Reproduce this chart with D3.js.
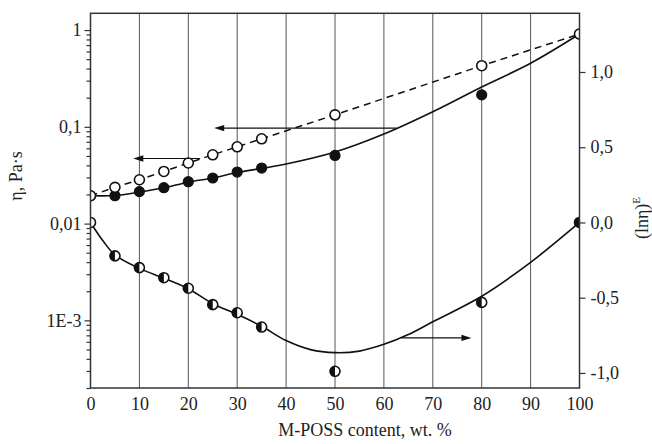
<!DOCTYPE html>
<html>
<head>
<meta charset="utf-8">
<script src="https://cdn.jsdelivr.net/npm/d3@7"></script>
<style>
  html, body { margin: 0; padding: 0; background: #fff; }
  svg text { font-family: "Liberation Serif", "Times New Roman", Times, "DejaVu Serif", serif; fill: #222; }
</style>
</head>
<body>
<svg id="chart" width="652" height="444"></svg>
<script>

/* ── data ── */
const contentX   = [0, 5, 10, 15, 20, 25, 30, 35, 50, 80, 100];
const etaFilled  = [0.0194, 0.0194, 0.0214, 0.0235, 0.0271, 0.0296, 0.0341, 0.0375, 0.0506, 0.214, 0.91];
const etaOpen    = [0.0194, 0.0237, 0.0284, 0.0346, 0.0423, 0.0514, 0.0622, 0.0752, 0.133, 0.428, 0.91];
const excessLn   = [0.0, -0.222, -0.30, -0.367, -0.437, -0.546, -0.60, -0.695, -0.989, -0.531, 0.0];

/* fitted curves (drawn lines) */
const etaFitX    = [0, 5, 10, 15, 20, 25, 30, 35, 40, 50, 60, 70, 80, 90, 100];
const etaFit     = [0.0194, 0.0195, 0.0212, 0.0235, 0.0268, 0.0296, 0.0337, 0.0372, 0.0412, 0.0548, 0.0841, 0.143, 0.258, 0.454, 0.91];
const excessFitX = [0, 2.5, 5, 10, 15, 20, 25, 30, 35, 40, 45, 50, 55, 60, 65, 70, 80, 90, 100];
const excessFit  = [0, -0.12, -0.215, -0.305, -0.37, -0.44, -0.54, -0.61, -0.69, -0.785, -0.845, -0.865, -0.855, -0.81, -0.745, -0.66, -0.49, -0.265, 0];

/* axis ticks */
const xTicks      = [0, 10, 20, 30, 40, 50, 60, 70, 80, 90, 100];
const leftTicks   = [0.001, 0.01, 0.1, 1];
const leftLabels  = ['1E-3', '0,01', '0,1', '1'];
const rightTicks  = [-1, -0.5, 0, 0.5, 1];
const rightLabels = ['-1,0', '-0,5', '0,0', '0,5', '1,0'];

/* arrows: axis, y value, from x, to x (head at "to") */
const arrows = [
  { axis: 'left',  y: 0.097,  from: 62.6, to: 25.3 },
  { axis: 'left',  y: 0.0471, from: 22.4, to: 8.75 },
  { axis: 'right', y: -0.767, from: 63.6, to: 77.9 }
];

/* ── layout ── */
const svg = d3.select('#chart');
const pLeft = 90.5, pRight = 579.5, pTop = 13.3, pBottom = 388;
const serif = '"Liberation Serif", "Times New Roman", Times, "DejaVu Serif", serif';

const x  = d3.scaleLinear().domain([0, 100]).range([pLeft, pRight]);
const yL = d3.scaleLog().domain([2.0e-4, 1.49]).range([pBottom, pTop]);
const yR = d3.scaleLinear().domain([-1.1, 1.39]).range([pBottom, pTop]);

const ink = '#111';

svg.append('defs').append('clipPath').attr('id', 'plot-clip')
  .append('rect')
  .attr('x', pLeft).attr('y', pTop)
  .attr('width', pRight - pLeft).attr('height', pBottom - pTop);

/* ── vertical grid lines ── */
svg.append('g')
  .selectAll('line')
  .data(xTicks.filter(d => d > 0 && d < 100))
  .join('line')
  .attr('x1', d => x(d)).attr('x2', d => x(d))
  .attr('y1', pTop).attr('y2', pBottom)
  .attr('stroke', '#555').attr('stroke-width', 1);

const plot = svg.append('g').attr('clip-path', 'url(#plot-clip)');

/* ── curves ── */
const lineL = d3.line().x(d => x(d[0])).y(d => yL(d[1])).curve(d3.curveCatmullRom);
const lineR = d3.line().x(d => x(d[0])).y(d => yR(d[1])).curve(d3.curveCatmullRom);

plot.append('path')
  .datum(etaFitX.map((v, i) => [v, etaFit[i]]))
  .attr('d', lineL)
  .attr('fill', 'none').attr('stroke', ink).attr('stroke-width', 1.6);

plot.append('path')
  .datum(contentX.map((v, i) => [v, etaOpen[i]]))
  .attr('d', d3.line().x(d => x(d[0])).y(d => yL(d[1])))
  .attr('fill', 'none').attr('stroke', ink).attr('stroke-width', 1.5)
  .attr('stroke-dasharray', '7,5');

plot.append('path')
  .datum(excessFitX.map((v, i) => [v, excessFit[i]]))
  .attr('d', lineR)
  .attr('fill', 'none').attr('stroke', ink).attr('stroke-width', 1.6);

/* ── markers ── */
const r = 5;

plot.append('g').selectAll('circle')
  .data(contentX.map((v, i) => [v, etaFilled[i]]))
  .join('circle')
  .attr('cx', d => x(d[0])).attr('cy', d => yL(d[1])).attr('r', r)
  .attr('fill', ink).attr('stroke', ink).attr('stroke-width', 1.2);

plot.append('g').selectAll('circle')
  .data(contentX.map((v, i) => [v, etaOpen[i]]))
  .join('circle')
  .attr('cx', d => x(d[0])).attr('cy', d => yL(d[1])).attr('r', r)
  .attr('fill', '#fff').attr('stroke', ink).attr('stroke-width', 1.6);

/* half-filled: white disc + left half black */
const half = plot.append('g').selectAll('g')
  .data(contentX.map((v, i) => [v, excessLn[i]]))
  .join('g')
  .attr('transform', d => `translate(${x(d[0])},${yR(d[1])})`);

half.append('circle').attr('r', r).attr('fill', '#fff');
half.append('path')
  .attr('d', `M0,${-r} A${r},${r} 0 0 0 0,${r} Z`)
  .attr('fill', ink);
half.append('circle').attr('r', r)
  .attr('fill', 'none').attr('stroke', ink).attr('stroke-width', 1.6);

/* ── arrows ── */
arrows.forEach(a => {
  const yy = a.axis === 'left' ? yL(a.y) : yR(a.y);
  const x1 = x(a.from), x2 = x(a.to);
  const dir = Math.sign(x2 - x1);
  svg.append('line')
    .attr('x1', x1).attr('x2', x2 - dir * 6)
    .attr('y1', yy).attr('y2', yy)
    .attr('stroke', ink).attr('stroke-width', 1.1);
  svg.append('path')
    .attr('d', `M${x2},${yy} L${x2 - dir * 10},${yy - 3.2} L${x2 - dir * 10},${yy + 3.2} Z`)
    .attr('fill', ink);
});

/* ── frame ── */
svg.append('rect')
  .attr('x', pLeft).attr('y', pTop)
  .attr('width', pRight - pLeft).attr('height', pBottom - pTop)
  .attr('fill', 'none').attr('stroke', '#333').attr('stroke-width', 1.5);

/* ── axes ── */
function styleAxis(g) {
  g.attr('font-family', serif);
  g.select('.domain').remove();
  g.selectAll('line').attr('stroke', '#333').attr('stroke-width', 1.2);
  g.selectAll('text')
    .attr('font-family', serif)
    .attr('font-size', 18)
    .attr('fill', '#222');
}

svg.append('g')
  .attr('transform', `translate(0,${pBottom})`)
  .call(d3.axisBottom(x).tickValues(xTicks).tickSize(0).tickPadding(9))
  .call(styleAxis);

svg.append('g')
  .attr('transform', `translate(${pLeft},0)`)
  .call(d3.axisLeft(yL).tickValues(leftTicks)
    .tickFormat((d, i) => leftLabels[i]).tickSize(6).tickPadding(3))
  .call(styleAxis);

/* minor log ticks */
const minorTicks = [];
[-4, -3, -2, -1, 0].forEach(k => {
  for (let m = 2; m <= 9; m++) minorTicks.push(m * Math.pow(10, k));
});
svg.append('g')
  .attr('transform', `translate(${pLeft},0)`)
  .call(d3.axisLeft(yL)
    .tickValues(minorTicks.filter(v => v >= 2.0e-4 && v <= 1.49))
    .tickFormat('').tickSize(4))
  .call(styleAxis);

svg.append('g')
  .attr('transform', `translate(${pRight},0)`)
  .call(d3.axisRight(yR).tickValues(rightTicks)
    .tickFormat((d, i) => rightLabels[i]).tickSize(6).tickPadding(5))
  .call(styleAxis);

/* ── axis titles ── */
svg.append('text')
  .attr('transform', 'translate(22,176) rotate(-90)')
  .attr('text-anchor', 'middle')
  .attr('font-family', serif).attr('font-size', 18)
  .text('η, Pa·s');

const rt = svg.append('text')
  .attr('transform', 'translate(648,218) rotate(-90)')
  .attr('text-anchor', 'middle')
  .attr('font-family', serif).attr('font-size', 18);
rt.append('tspan').text('(lnη)');
rt.append('tspan').attr('dy', -8).attr('font-size', 11).text('E');

svg.append('text')
  .attr('x', 365).attr('y', 436)
  .attr('text-anchor', 'middle')
  .attr('font-family', serif).attr('font-size', 18)
  .text('M-POSS content, wt. %');

</script>
</body>
</html>
